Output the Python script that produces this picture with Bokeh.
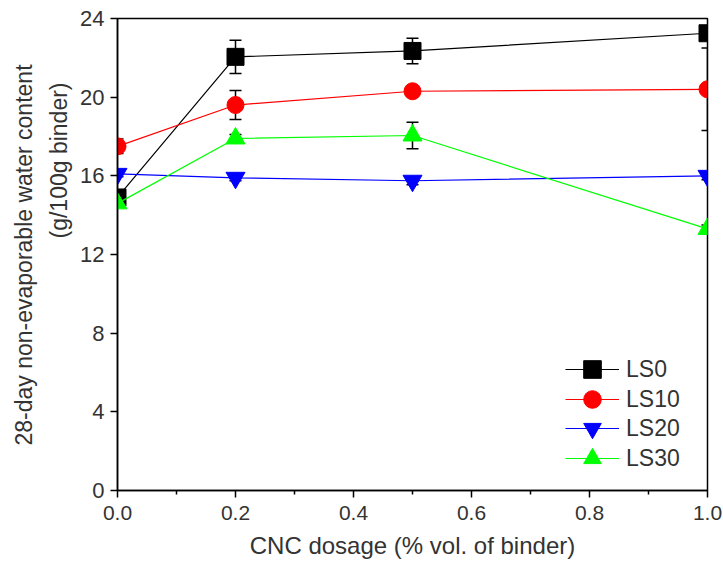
import math
from bokeh.plotting import figure
from bokeh.models import Whisker, TeeHead, ColumnDataSource, Legend, LegendItem, Title, FixedTicker, Range1d
from bokeh.embed import file_html
from bokeh.resources import INLINE

# ---- data ----
cnc = [0.0, 0.2, 0.5, 1.0]
ls0 = [14.9, 22.05, 22.35, 23.25]
ls0_err = [0.2, 0.85, 0.65, 0.2]
ls10 = [17.5, 19.6, 20.3, 20.4]
ls10_err = [0.37, 0.74, 0.2, 2.1]
ls20 = [16.1, 15.9, 15.75, 16.0]
ls20_err = [0.15, 0.15, 0.2, 0.2]
ls30 = [14.6, 17.9, 18.05, 13.3]
ls30_err = [0.2, 0.2, 0.67, 0.2]
series_names = ["LS0", "LS10", "LS20", "LS30"]
x_ticks = [0.0, 0.2, 0.4, 0.6, 0.8, 1.0]
y_ticks = [0, 4, 8, 12, 16, 20, 24]

FONT = "Liberation Sans"
TXT = "#333333"
FS = "23px"

p = figure(width=723, height=571, output_backend="svg", toolbar_location=None,
           x_range=Range1d(0, 1.0), y_range=Range1d(0, 24),
           min_border_left=117, min_border_right=16, min_border_top=18, min_border_bottom=81)
p.xgrid.visible = False
p.ygrid.visible = False
p.outline_line_color = "black"
p.outline_line_width = 1.5
p.background_fill_color = "white"
p.border_fill_color = "white"

p.xaxis.ticker = FixedTicker(ticks=x_ticks, minor_ticks=[0.1, 0.3, 0.5, 0.7, 0.9])
p.yaxis.ticker = FixedTicker(ticks=y_ticks, minor_ticks=[])
p.xaxis.major_label_overrides = {t: f"{t:.1f}" for t in x_ticks}
for ax in (p.xaxis, p.yaxis):
    ax.axis_line_width = 1.5
    ax.axis_line_color = "black"
    ax.major_tick_line_width = 1.5
    ax.major_tick_line_color = "black"
    ax.major_tick_in = 0
    ax.major_tick_out = 7
    ax.minor_tick_line_width = 1.5
    ax.minor_tick_line_color = "black"
    ax.minor_tick_in = 0
    ax.minor_tick_out = 4
    ax.major_label_text_font = FONT
    ax.major_label_text_color = TXT
p.xaxis.major_label_text_font_size = "21px"
p.yaxis.major_label_text_font_size = "22px"
p.xaxis.major_label_standoff = 8
p.yaxis.major_label_standoff = 6
p.xaxis.axis_label = "CNC dosage (% vol. of binder)"
p.xaxis.axis_label_text_font = FONT
p.xaxis.axis_label_text_font_size = "24px"
p.xaxis.axis_label_text_font_style = "normal"
p.xaxis.axis_label_text_color = TXT
p.xaxis.axis_label_standoff = 9

colors = ["black", "#FF0000", "#0000FF", "#00FF00"]
markers = ["square", "circle", "inverted_triangle", "triangle"]
sizes = [17, 17, 19, 19]
vals = [ls0, ls10, ls20, ls30]
errs = [ls0_err, ls10_err, ls20_err, ls30_err]

items = []
for name, c, m, s, v, e in zip(series_names, colors, markers, sizes, vals, errs):
    src = ColumnDataSource(dict(x=cnc, y=v,
                                lo=[a - b for a, b in zip(v, e)],
                                hi=[a + b for a, b in zip(v, e)]))
    ln = p.line("x", "y", source=src, line_color=c, line_width=1.2)
    sc = p.scatter("x", "y", source=src, marker=m, size=s, fill_color=c, line_color=c)
    items.append((name, ln, sc, src))

for name, ln, sc, src in items:
    w = Whisker(base="x", lower="lo", upper="hi", source=src, line_color="black", line_width=1.5,
                upper_head=TeeHead(size=12, line_color="black", line_width=1.5),
                lower_head=TeeHead(size=12, line_color="black", line_width=1.5))
    p.add_layout(w)

# one legend per entry so rows can sit closer than the glyph box height
legend_offsets = [99, 69, 40, 10]
for (name, ln, sc, _), yoff in zip(items, legend_offsets):
    lg = Legend(items=[LegendItem(label=name, renderers=[ln, sc])],
                location=(448, yoff), orientation="vertical",
                glyph_width=54, glyph_height=44, spacing=0, padding=0, margin=0,
                label_standoff=7, label_text_font=FONT, label_text_font_size=FS,
                label_text_color=TXT, border_line_color=None, background_fill_alpha=0)
    p.add_layout(lg)

# y-axis title: two lines as left-side titles (first added sits nearest the axis)
t2 = Title(text="(g/100g binder)", align="left", offset=252, standoff=11,
           text_font=FONT, text_font_size=FS, text_font_style="normal", text_color=TXT)
t1 = Title(text="28-day non-evaporable water content", align="left", offset=45, standoff=3,
           text_font=FONT, text_font_size=FS, text_font_style="normal", text_color=TXT)
p.add_layout(t2, "left")
p.add_layout(t1, "left")

open("out.html", "w").write(file_html(p, INLINE))
